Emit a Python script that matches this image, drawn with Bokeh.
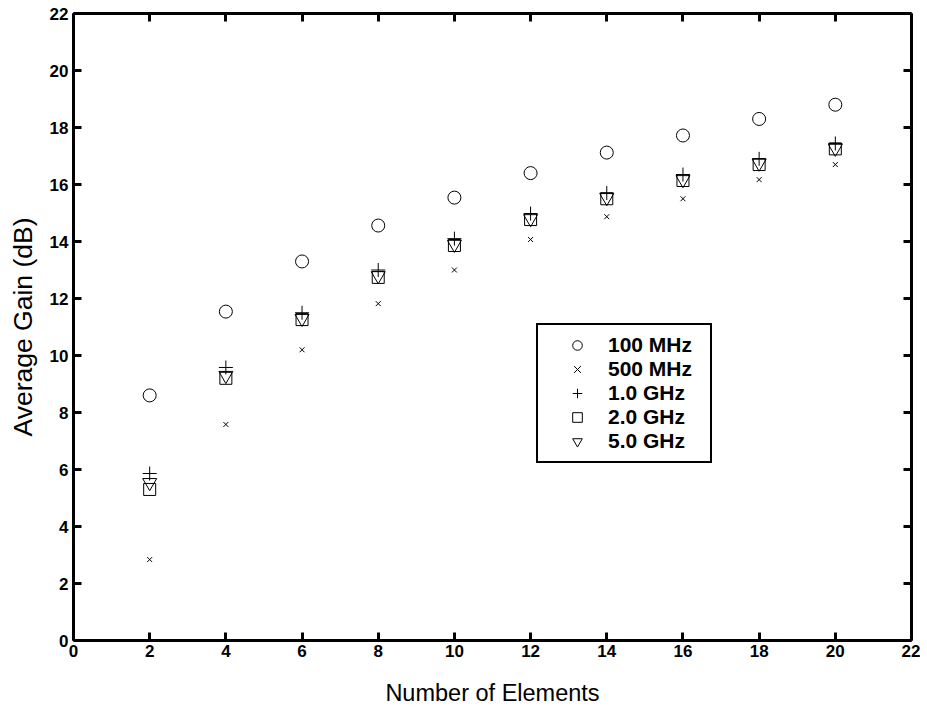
from bokeh.plotting import figure
from bokeh.models import LinearAxis, FixedTicker, Range1d, Legend, LegendItem, CustomJSTickFormatter
from bokeh.embed import file_html
from bokeh.resources import INLINE

# Data
elements = [2, 4, 6, 8, 10, 12, 14, 16, 18, 20]
gain_100mhz = [8.6, 11.54, 13.3, 14.56, 15.54, 16.4, 17.12, 17.72, 18.3, 18.8]
gain_500mhz = [2.84, 7.58, 10.2, 11.82, 13.0, 14.07, 14.87, 15.5, 16.17, 16.7]
gain_1ghz = [5.86, 9.58, 11.5, 13.0, 14.1, 14.98, 15.7, 16.35, 16.9, 17.44]
gain_2ghz = [5.3, 9.2, 11.26, 12.74, 13.86, 14.77, 15.5, 16.14, 16.7, 17.25]
gain_5ghz = [5.54, 9.3, 11.3, 12.8, 13.9, 14.8, 15.54, 16.17, 16.75, 17.27]
series_labels = ["100 MHz", "500 MHz", "1.0 GHz", "2.0 GHz", "5.0 GHz"]
ticks = list(range(0, 23, 2))

FONT = "Liberation Sans"

p = figure(width=920, height=710, output_backend="svg", toolbar_location=None,
           x_range=Range1d(0, 22), y_range=Range1d(0, 22),
           min_border_left=73, min_border_right=9, min_border_top=13, min_border_bottom=70,
           x_axis_label="Number of Elements", y_axis_label="Average Gain (dB)")
p.outline_line_color = None
p.xgrid.visible = False
p.ygrid.visible = False
p.background_fill_color = "white"
p.border_fill_color = "white"

p.xaxis.ticker = FixedTicker(ticks=ticks)
p.yaxis.ticker = FixedTicker(ticks=ticks)
for axes in [p.xaxis, p.yaxis]:
    axes.axis_line_width = 3
    axes.axis_line_color = "black"
    axes.major_tick_line_width = 3
    axes.major_tick_line_color = "black"
    axes.major_tick_in = 8
    axes.major_tick_out = 0
    axes.minor_tick_line_color = None
    axes.major_label_text_font = FONT
    axes.major_label_text_font_style = "bold"
    axes.major_label_text_font_size = "17px"
    axes.major_label_text_color = "black"
    axes.axis_label_text_font = FONT
    axes.axis_label_text_font_style = "normal"
    axes.axis_label_text_color = "black"

p.xaxis.major_label_standoff = 4
p.xaxis.axis_label_standoff = 20
p.xaxis.axis_label_text_font_size = "23.5px"
p.yaxis.major_label_standoff = 5
p.yaxis.axis_label_standoff = 9
p.yaxis.axis_label_text_font_size = "26.5px"

for loc in ["above", "right"]:
    ax = LinearAxis(ticker=FixedTicker(ticks=ticks),
                    formatter=CustomJSTickFormatter(code="return ''"))
    ax.axis_line_width = 3
    ax.axis_line_color = "black"
    ax.major_tick_line_width = 3
    ax.major_tick_line_color = "black"
    ax.major_tick_in = 8
    ax.major_tick_out = 0
    ax.minor_tick_line_color = None
    ax.major_label_text_font_size = "1px"
    ax.major_label_standoff = 0
    p.add_layout(ax, loc)

r1 = p.scatter(elements, gain_100mhz, marker="circle", size=13, fill_color=None, line_color="black", line_width=1)
r2 = p.scatter(elements, gain_500mhz, marker="x", size=7, line_color="black", line_width=1)
r3 = p.scatter(elements, gain_1ghz, marker="cross", size=14, line_color="black", line_width=1)
r4 = p.scatter(elements, gain_2ghz, marker="square", size=12, fill_color=None, line_color="black", line_width=1)
r5 = p.scatter(elements, gain_5ghz, marker="inverted_triangle", size=14, fill_color=None, line_color="black", line_width=1)

legend = Legend(items=[LegendItem(label=lab, renderers=[r]) for lab, r in
                       zip(series_labels, [r1, r2, r3, r4, r5])],
                location=(463, 177))
legend.padding = 8
legend.spacing = 0
legend.glyph_width = 62
legend.glyph_height = 24
legend.label_height = 24
legend.label_width = 94
legend.label_standoff = 0
legend.margin = 0
legend.border_line_color = "black"
legend.border_line_width = 2
legend.border_line_alpha = 1
legend.background_fill_color = "white"
legend.background_fill_alpha = 1
legend.label_text_font = FONT
legend.label_text_font_style = "bold"
legend.label_text_font_size = "21px"
legend.label_text_color = "black"
p.add_layout(legend, "center")

open("out.html", "w").write(file_html(p, INLINE))
